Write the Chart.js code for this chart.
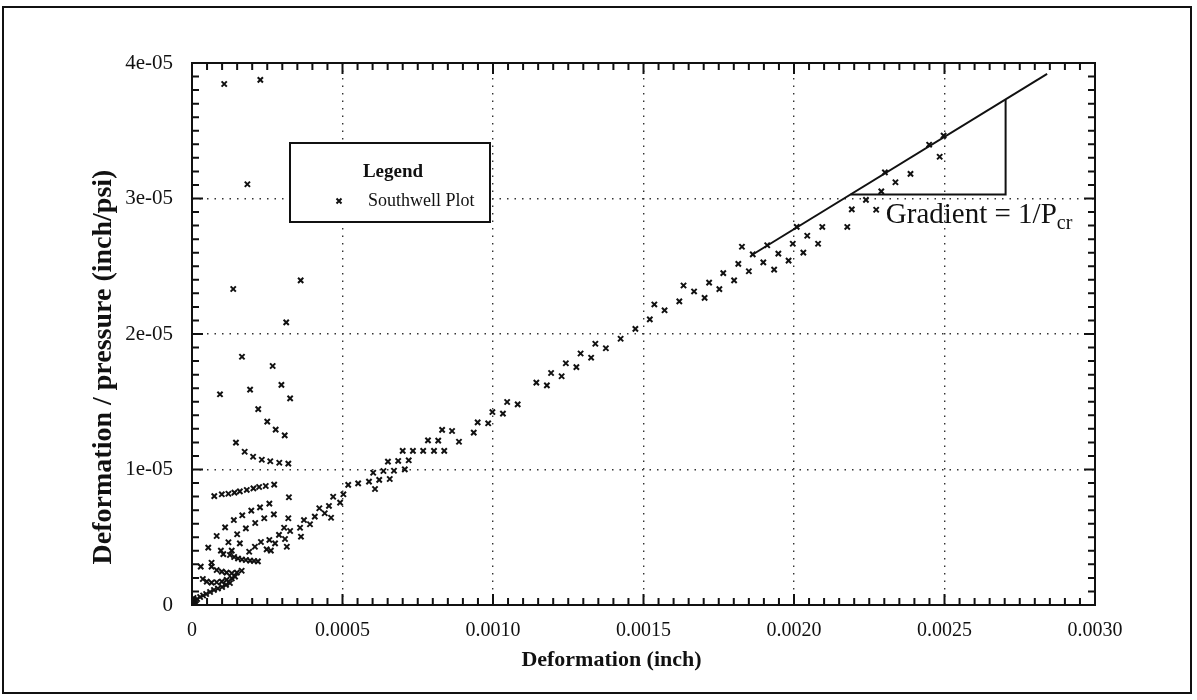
<!DOCTYPE html>
<html>
<head>
<meta charset="utf-8">
<script src="https://cdn.jsdelivr.net/npm/chart.js@4.4.1/dist/chart.umd.min.js"></script>
<style>
  html, body { margin: 0; padding: 0; background: #fff; }
  #page  { position: relative; width: 1197px; height: 700px; overflow: hidden; }
  #frame { position: absolute; left: 2px; top: 6px; width: 1190px; height: 688px;
           box-sizing: border-box; border: 2px solid #111; }
  #plot  { position: absolute; left: 0; top: 0; }
</style>
</head>
<body>
<div id="page">
  <div id="frame"></div>
  <canvas id="plot" width="1197" height="700"></canvas>
</div>
<script>
// ── Fonts / colours ───────────────────────────────────────────────────────────
const SERIF = "'Liberation Serif', 'Times New Roman', serif";
const INK   = "#111";

// ── Axes ─────────────────────────────────────────────────────────────────────
const xTickValues = [0, 0.0005, 0.0010, 0.0015, 0.0020, 0.0025, 0.0030];
const xTickLabels = ["0", "0.0005", "0.0010", "0.0015", "0.0020", "0.0025", "0.0030"];
const yTickValues = [0, 1e-5, 2e-5, 3e-5, 4e-5];
const yTickLabels = ["0", "1e-05", "2e-05", "3e-05", "4e-05"];
const xTitle = "Deformation (inch)";
const yTitle = "Deformation / pressure (inch/psi)";

// ── Southwell plot points [deformation (inch), deformation/pressure (inch/psi)] ─
const swScatterHigh = [
  [1.07e-4, 38.45e-6], [2.27e-4, 38.75e-6], [1.84e-4, 31.05e-6], [1.37e-4, 23.32e-6],
  [3.61e-4, 23.96e-6], [3.13e-4, 20.86e-6], [1.66e-4, 18.32e-6], [2.68e-4, 17.64e-6],
  [0.93e-4, 15.55e-6], [1.93e-4, 15.89e-6], [2.97e-4, 16.24e-6], [3.26e-4, 15.25e-6],
  [2.20e-4, 14.46e-6], [2.50e-4, 13.53e-6], [2.78e-4, 12.94e-6], [3.08e-4, 12.52e-6],
  [1.46e-4, 11.98e-6], [1.75e-4, 11.31e-6], [2.03e-4, 10.94e-6], [2.32e-4, 10.72e-6],
  [2.60e-4, 10.61e-6], [2.90e-4, 10.50e-6], [3.20e-4, 10.43e-6],
];
const swBand8 = [
  [0.74e-4, 8.04e-6], [0.99e-4, 8.17e-6], [1.21e-4, 8.21e-6], [1.41e-4, 8.29e-6],
  [1.59e-4, 8.39e-6], [1.82e-4, 8.49e-6], [2.04e-4, 8.61e-6], [2.23e-4, 8.71e-6],
  [2.45e-4, 8.78e-6], [2.73e-4, 8.88e-6], [3.22e-4, 7.95e-6],
];
const swFan = [
  [2.57e-4, 7.48e-6], [2.26e-4, 7.21e-6], [1.97e-4, 6.96e-6], [1.67e-4, 6.62e-6],
  [1.39e-4, 6.27e-6], [1.10e-4, 5.73e-6], [0.82e-4, 5.09e-6], [0.54e-4, 4.23e-6],
  [0.29e-4, 2.83e-6], [0.36e-4, 1.92e-6],
  [2.72e-4, 6.69e-6], [2.40e-4, 6.40e-6], [2.10e-4, 6.05e-6], [1.79e-4, 5.66e-6],
  [1.50e-4, 5.22e-6], [1.21e-4, 4.63e-6], [0.96e-4, 4.01e-6], [0.65e-4, 3.12e-6],
  [3.20e-4, 6.40e-6], [3.06e-4, 5.70e-6], [3.26e-4, 5.46e-6], [2.89e-4, 5.17e-6],
  [3.09e-4, 4.87e-6], [2.57e-4, 4.80e-6], [2.76e-4, 4.55e-6], [2.29e-4, 4.65e-6],
  [2.48e-4, 4.11e-6], [2.62e-4, 4.01e-6], [3.15e-4, 4.30e-6], [2.09e-4, 4.30e-6],
  [1.90e-4, 3.93e-6], [1.59e-4, 4.55e-6], [1.32e-4, 4.01e-6], [1.04e-4, 3.76e-6],
];
const swNearOrigin = [
  [1.26e-4, 3.69e-6], [1.40e-4, 3.54e-6], [1.53e-4, 3.43e-6], [1.66e-4, 3.36e-6],
  [1.79e-4, 3.32e-6], [1.93e-4, 3.28e-6], [2.06e-4, 3.25e-6], [2.19e-4, 3.22e-6],
  [0.65e-4, 2.83e-6], [0.82e-4, 2.58e-6], [0.99e-4, 2.46e-6], [1.15e-4, 2.39e-6],
  [1.32e-4, 2.34e-6], [1.49e-4, 2.39e-6], [1.65e-4, 2.53e-6],
  [0.49e-4, 1.72e-6], [0.65e-4, 1.65e-6], [0.82e-4, 1.68e-6], [0.99e-4, 1.72e-6],
  [1.15e-4, 1.85e-6], [1.32e-4, 1.97e-6], [1.43e-4, 2.09e-6],
  [0.07e-4, 0.30e-6], [0.17e-4, 0.44e-6], [0.27e-4, 0.59e-6], [0.37e-4, 0.70e-6],
  [0.47e-4, 0.81e-6], [0.60e-4, 0.96e-6], [0.73e-4, 1.11e-6], [0.86e-4, 1.22e-6],
  [1.00e-4, 1.33e-6], [1.13e-4, 1.48e-6], [1.26e-4, 1.62e-6],
  [0.02e-4, 0.07e-6], [0.03e-4, 0.22e-6], [0.10e-4, 0.15e-6], [0.05e-4, 0.52e-6],
  [0.13e-4, 0.07e-6],
];
const swDiagonal = [
  [3.62e-4, 5.04e-6], [3.59e-4, 5.70e-6], [3.72e-4, 6.27e-6], [3.92e-4, 5.96e-6],
  [4.08e-4, 6.52e-6], [4.23e-4, 7.14e-6], [4.41e-4, 6.77e-6], [4.55e-4, 7.31e-6],
  [4.62e-4, 6.44e-6], [4.69e-4, 7.99e-6], [4.92e-4, 7.55e-6], [5.03e-4, 8.17e-6],
  [5.19e-4, 8.86e-6], [5.52e-4, 8.98e-6], [5.88e-4, 9.10e-6], [6.08e-4, 8.56e-6],
  [6.22e-4, 9.23e-6], [6.57e-4, 9.30e-6], [6.02e-4, 9.76e-6], [6.36e-4, 9.89e-6],
  [6.71e-4, 9.91e-6], [7.07e-4, 10.01e-6], [6.51e-4, 10.58e-6], [6.85e-4, 10.63e-6],
  [7.20e-4, 10.68e-6], [7.00e-4, 11.37e-6], [7.34e-4, 11.37e-6], [7.68e-4, 11.37e-6],
  [8.04e-4, 11.37e-6], [8.38e-4, 11.37e-6], [7.84e-4, 12.15e-6], [8.18e-4, 12.13e-6],
  [8.87e-4, 12.05e-6], [8.31e-4, 12.92e-6], [8.64e-4, 12.84e-6], [9.36e-4, 12.72e-6],
  [9.49e-4, 13.48e-6], [9.84e-4, 13.41e-6], [9.98e-4, 14.24e-6], [10.33e-4, 14.12e-6],
  [10.47e-4, 14.98e-6], [10.82e-4, 14.81e-6], [11.44e-4, 16.41e-6], [11.79e-4, 16.21e-6],
  [11.93e-4, 17.12e-6], [12.28e-4, 16.88e-6], [12.42e-4, 17.84e-6], [12.77e-4, 17.56e-6],
  [12.91e-4, 18.56e-6], [13.26e-4, 18.25e-6], [13.40e-4, 19.28e-6], [13.75e-4, 18.95e-6],
  [14.24e-4, 19.65e-6], [14.73e-4, 20.38e-6], [15.21e-4, 21.08e-6], [15.36e-4, 22.18e-6],
  [15.70e-4, 21.75e-6], [16.19e-4, 22.41e-6], [16.33e-4, 23.58e-6], [16.68e-4, 23.14e-6],
  [17.03e-4, 22.67e-6], [17.18e-4, 23.79e-6], [17.52e-4, 23.31e-6], [17.65e-4, 24.49e-6],
  [18.01e-4, 23.96e-6], [18.15e-4, 25.17e-6], [18.27e-4, 26.44e-6], [18.50e-4, 24.63e-6],
  [18.63e-4, 25.88e-6], [18.98e-4, 25.29e-6], [19.11e-4, 26.55e-6], [19.34e-4, 24.75e-6],
  [19.48e-4, 25.93e-6], [19.82e-4, 25.41e-6], [19.96e-4, 26.66e-6], [20.09e-4, 27.91e-6],
  [20.31e-4, 26.01e-6], [20.44e-4, 27.25e-6], [20.80e-4, 26.66e-6], [20.94e-4, 27.90e-6],
  [21.77e-4, 27.90e-6], [21.92e-4, 29.20e-6], [22.39e-4, 29.90e-6], [22.73e-4, 29.17e-6],
  [22.90e-4, 30.53e-6], [23.02e-4, 31.93e-6], [23.37e-4, 31.20e-6], [23.87e-4, 31.82e-6],
  [24.49e-4, 33.97e-6], [24.84e-4, 33.08e-6], [24.97e-4, 34.64e-6],
];

// ── Fitted line and gradient triangle ────────────────────────────────────────
const fitLine      = [[18.60e-4, 25.83e-6], [28.41e-4, 39.19e-6]];
const gradientLegs = [[21.88e-4, 30.30e-6], [27.03e-4, 30.30e-6], [27.03e-4, 37.31e-6]];
const gradientLabelAt = [23.05e-4, 28.20e-6];

const toXY = arr => arr.map(([x, y]) => ({ x, y }));
const southwellPoints = toXY([].concat(swScatterHigh, swBand8, swFan, swNearOrigin, swDiagonal));

// ── Frame, inward ticks, titles, legend box and gradient label ───────────────
function drawCross(ctx, cx, cy, r) {
  ctx.moveTo(cx - r, cy - r); ctx.lineTo(cx + r, cy + r);
  ctx.moveTo(cx - r, cy + r); ctx.lineTo(cx + r, cy - r);
}

const decorPlugin = {
  id: "decor",
  afterDraw(chart) {
    const { ctx, chartArea: a, scales: { x, y } } = chart;
    ctx.save();
    ctx.strokeStyle = INK;
    ctx.fillStyle   = INK;

    // plot frame
    ctx.lineWidth = 2;
    ctx.strokeRect(a.left, a.top, a.right - a.left, a.bottom - a.top);

    // inward ticks on all four sides
    ctx.beginPath();
    for (let i = 0; i <= 60; i++) {
      const px  = x.getPixelForValue(i * 0.00005);
      const len = i % 10 === 0 ? 11 : 7;
      ctx.moveTo(px, a.bottom); ctx.lineTo(px, a.bottom - len);
      ctx.moveTo(px, a.top);    ctx.lineTo(px, a.top + len);
    }
    for (let i = 0; i <= 40; i++) {
      const py  = y.getPixelForValue(i * 1e-6);
      const len = i % 10 === 0 ? 11 : 7;
      ctx.moveTo(a.left, py);  ctx.lineTo(a.left + len, py);
      ctx.moveTo(a.right, py); ctx.lineTo(a.right - len, py);
    }
    ctx.stroke();

    // axis titles (set a little off-centre, as in the original)
    ctx.textAlign = "center";
    ctx.textBaseline = "middle";
    ctx.font = `bold 22px ${SERIF}`;
    ctx.fillText(xTitle, (a.left + a.right) / 2 - 32, a.bottom + 55);
    ctx.save();
    ctx.translate(a.left - 88, (a.top + a.bottom) / 2 + 33);
    ctx.rotate(-Math.PI / 2);
    ctx.font = `bold 28px ${SERIF}`;
    ctx.fillText(yTitle, 0, 0);
    ctx.restore();

    // legend box
    const box = { left: a.left + 98, top: a.top + 80, w: 200, h: 79 };
    ctx.fillStyle = "#fff";
    ctx.fillRect(box.left, box.top, box.w, box.h);
    ctx.lineWidth = 2;
    ctx.strokeRect(box.left, box.top, box.w, box.h);
    ctx.fillStyle = INK;
    ctx.font = `bold 19px ${SERIF}`;
    ctx.fillText("Legend", box.left + box.w / 2 + 3, box.top + 29);
    ctx.beginPath();
    ctx.lineWidth = 2;
    drawCross(ctx, box.left + 49, box.top + 58, 2.5);
    ctx.stroke();
    ctx.font = `18px ${SERIF}`;
    ctx.textAlign = "left";
    ctx.fillText("Southwell Plot", box.left + 78, box.top + 58);

    // gradient annotation
    const gx = x.getPixelForValue(gradientLabelAt[0]);
    const gy = y.getPixelForValue(gradientLabelAt[1]);
    ctx.textBaseline = "alphabetic";
    ctx.font = `29px ${SERIF}`;
    const main = "Gradient = 1/P";
    ctx.fillText(main, gx, gy);
    const w = ctx.measureText(main).width;
    ctx.font = `20px ${SERIF}`;
    ctx.fillText("cr", gx + w, gy + 6);
    ctx.restore();
  },
};

// ── Chart ────────────────────────────────────────────────────────────────────
const gridStyle = { color: "#333", lineWidth: 1.4, drawTicks: false };
const dots      = { display: false, dash: [1.5, 6] };

new Chart(document.getElementById("plot").getContext("2d"), {
  type: "scatter",
  data: {
    datasets: [
      {
        label: "Southwell Plot",
        data: southwellPoints,
        pointStyle: "crossRot",
        pointRadius: 3.7,
        borderColor: INK,
        borderWidth: 2,
      },
      {
        label: "fit",
        data: toXY(fitLine),
        showLine: true,
        pointRadius: 0,
        borderColor: INK,
        borderWidth: 2,
      },
      {
        label: "gradient",
        data: toXY(gradientLegs),
        showLine: true,
        pointRadius: 0,
        borderColor: INK,
        borderWidth: 2,
      },
    ],
  },
  options: {
    responsive: false,
    animation: false,
    events: [],
    layout: { padding: { top: 63, right: 102, left: 0, bottom: 0 } },
    plugins: { legend: { display: false }, tooltip: { enabled: false } },
    scales: {
      x: {
        type: "linear", min: 0, max: 0.003,
        afterBuildTicks: s => { s.ticks = xTickValues.map(v => ({ value: v })); },
        afterFit: s => { s.height = 95; },
        ticks: {
          callback: (v, i) => xTickLabels[i],
          font: { family: SERIF, size: 20 }, color: INK, padding: 14,
          maxRotation: 0, autoSkip: false,
        },
        grid: gridStyle,
        border: dots,
      },
      y: {
        type: "linear", min: 0, max: 4e-5,
        afterBuildTicks: s => { s.ticks = yTickValues.map(v => ({ value: v })); },
        afterFit: s => { s.width = 192; },
        ticks: {
          callback: (v, i) => yTickLabels[i],
          font: { family: SERIF, size: 21 }, color: INK, padding: 19,
          autoSkip: false,
        },
        grid: gridStyle,
        border: dots,
      },
    },
  },
  plugins: [decorPlugin],
});
</script>
</body>
</html>
